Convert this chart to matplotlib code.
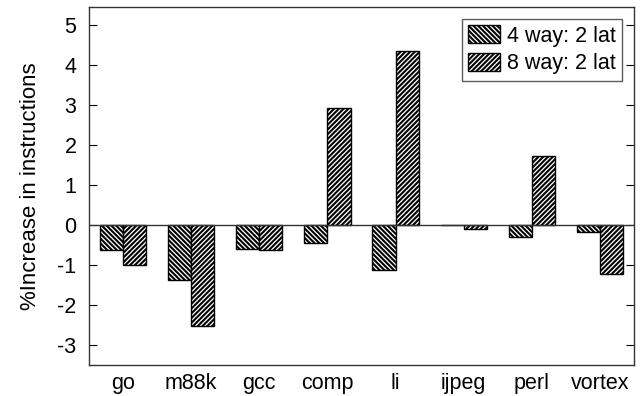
import numpy as np
import matplotlib
matplotlib.use("Agg")
import matplotlib.pyplot as plt

plt.rcParams['font.family'] = ['Liberation Sans', 'DejaVu Sans']
plt.rcParams['hatch.linewidth'] = 1.5
plt.rcParams['axes.unicode_minus'] = False

benchmarks = ['go', 'm88k', 'gcc', 'comp', 'li', 'ijpeg', 'perl', 'vortex']
way4_2lat = [-0.63, -1.38, -0.60, -0.44, -1.13, 0.0, -0.29, -0.17]
way8_2lat = [-0.99, -2.53, -0.63, 2.93, 4.35, -0.10, 1.72, -1.23]

fig = plt.figure(figsize=(6.44, 3.96), dpi=100)
ax = fig.add_axes([89 / 644, 31 / 396, 545 / 644, 358 / 396])

x = np.arange(len(benchmarks))
bar_width = 0.34

rects1 = ax.bar(x - bar_width / 2, way4_2lat, bar_width,
                color='white', edgecolor='black', hatch='\\' * 7, linewidth=1.0)
rects2 = ax.bar(x + bar_width / 2, way8_2lat, bar_width,
                color='white', edgecolor='black', hatch='/' * 7, linewidth=1.0)

ax.axhline(0, color='#333333', linewidth=1.0, zorder=3)

ax.set_xlim(-0.5, len(benchmarks) - 0.5)
ax.set_ylim(-3.5, 5.45)
ax.set_yticks(range(-3, 6))
ax.set_xticks(x)
ax.set_xticklabels(benchmarks, fontsize=15.5)
ax.tick_params(axis='x', length=0, pad=6)
ax.tick_params(axis='y', direction='in', length=6, right=True, labelsize=15.5, pad=9)
ax.set_ylabel('%Increase in instructions', fontsize=16, labelpad=12)

for s in ax.spines.values():
    s.set_linewidth(1.0)
    s.set_color('#333333')

leg = ax.legend([rects1, rects2], ['4 way: 2 lat', '8 way: 2 lat'],
                loc='upper right', fontsize=15.5, frameon=True, fancybox=False,
                handlelength=1.5, handleheight=0.9, handletextpad=0.3,
                borderpad=0.3, labelspacing=0.3, borderaxespad=0.55)
leg.get_frame().set_edgecolor('#333333')
leg.get_frame().set_linewidth(1.0)

fig.savefig('out.png', dpi=100)
